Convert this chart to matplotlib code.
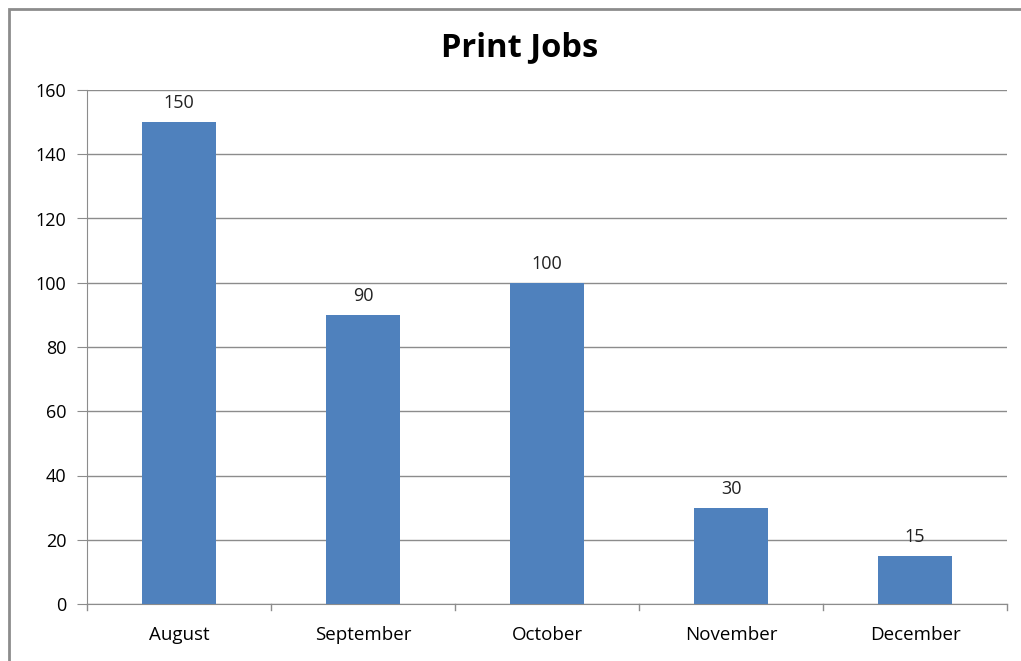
import matplotlib
matplotlib.use('Agg')
import matplotlib.pyplot as plt
from matplotlib.patches import Rectangle

# chart data
months = ['August', 'September', 'October', 'November', 'December']
jobs = [150, 90, 100, 30, 15]
y_ticks = [0, 20, 40, 60, 80, 100, 120, 140, 160]

plt.rcParams['font.family'] = ['Open Sans', 'DejaVu Sans']

fig = plt.figure(figsize=(10.21, 6.61), dpi=100)
ax = fig.add_axes([87 / 1021, 1 - 604 / 661, 920 / 1021, 514 / 661])

# outer chart frame (only left and top visible in the reference)
fig.patches.append(Rectangle((9 / 1021, -0.1), 1.2, 1 - 9 / 661 + 0.1,
                             transform=fig.transFigure, fill=False,
                             edgecolor='#8c8c8c', linewidth=2))

x = list(range(len(months)))
bars = ax.bar(x, jobs, width=0.4, color='#4F81BD', zorder=3)

for xi, v in zip(x, jobs):
    ax.text(xi, v + 3, str(v), ha='center', va='bottom', fontsize=13,
            color='#222222', zorder=4)

ax.set_xlim(-0.5, len(months) - 0.5)
ax.set_ylim(0, 160)
ax.set_yticks(y_ticks)
ax.set_yticklabels([str(t) for t in y_ticks], fontsize=13)
ax.set_xticks(x)
ax.set_xticklabels(months, fontsize=13.5)

ax.grid(axis='y', color='#8c8c8c', linewidth=1, zorder=0)
ax.tick_params(axis='x', length=0, pad=16)
ax.tick_params(axis='y', length=7, color='#8c8c8c', pad=8)

# category boundary ticks below the x axis
for b in [i - 0.5 for i in range(len(months) + 1)]:
    ax.plot([b, b], [0, -2], color='#8c8c8c', linewidth=1, clip_on=False)

for s in ['top', 'right']:
    ax.spines[s].set_visible(False)
ax.spines['left'].set_color('#8c8c8c')
ax.spines['bottom'].set_color('#8c8c8c')

fig.text(520 / 1021, 1 - 48 / 661, 'Print Jobs', ha='center', va='center',
         fontsize=23.5, fontweight='bold')

fig.savefig('out.png', dpi=100)
